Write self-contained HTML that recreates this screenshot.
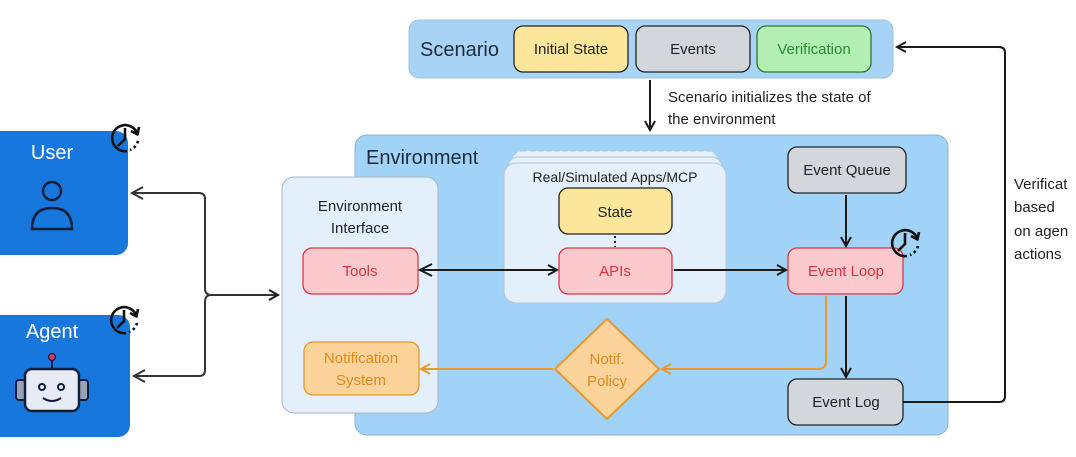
<!DOCTYPE html>
<html><head><meta charset="utf-8"><style>
html,body{margin:0;padding:0;background:#fff;width:1076px;height:457px;overflow:hidden}
text{font-family:"Liberation Sans","DejaVu Sans",sans-serif}
</style></head><body>
<svg width="1076" height="457" viewBox="0 0 1076 457" xmlns="http://www.w3.org/2000/svg">
<defs>
<marker id="ak" markerWidth="12" markerHeight="12" refX="10" refY="6" orient="auto" markerUnits="userSpaceOnUse"><path d="M1,1 L10,6 L1,11" fill="none" stroke="#1a1a1a" stroke-width="2"/></marker>
<marker id="ao" markerWidth="12" markerHeight="12" refX="10" refY="6" orient="auto" markerUnits="userSpaceOnUse"><path d="M1,1 L10,6 L1,11" fill="none" stroke="#e89a2c" stroke-width="2"/></marker>
<g id="clk"><path d="M2,13 A13,13 0 1 1 12.5,-4" fill="none" stroke="#111" stroke-width="2.6"/><path d="M6,-7 L12.5,-3.5 L14,-11" fill="none" stroke="#111" stroke-width="2.6" stroke-linejoin="round"/><path d="M13,3 A13,13 0 0 1 5,12" fill="none" stroke="#111" stroke-width="2.6" stroke-dasharray="2.5,3"/><path d="M0,-10 L0,1 L-7,8" fill="none" stroke="#111" stroke-width="2.6"/></g>
</defs>
<rect x="409" y="20" width="484" height="58" rx="10" fill="#a9d3f5" stroke="#9cc0de"/>
<text x="420" y="56" font-size="20" fill="#1d2b3a">Scenario</text>
<rect x="514" y="26" width="114" height="46" rx="9" fill="#fbe69a" stroke="#222" stroke-width="1.3"/>
<text x="571" y="54" font-size="15" text-anchor="middle" fill="#222">Initial State</text>
<rect x="636" y="26" width="114" height="46" rx="9" fill="#d3d7dc" stroke="#222" stroke-width="1.3"/>
<text x="693" y="54" font-size="15" text-anchor="middle" fill="#222">Events</text>
<rect x="757" y="26" width="114" height="46" rx="9" fill="#b3efb3" stroke="#2c7a2c" stroke-width="1.3"/>
<text x="814" y="54" font-size="15" text-anchor="middle" fill="#2e8b2e">Verification</text>
<line x1="650" y1="80" x2="650" y2="130" stroke="#1a1a1a" stroke-width="2" marker-end="url(#ak)"/>
<text x="668" y="102" font-size="15" fill="#222">Scenario initializes the state of</text>
<text x="668" y="124" font-size="15" fill="#222">the environment</text>
<rect x="355" y="135" width="593" height="300" rx="12" fill="#a1d2f8" stroke="#8fb3cf"/>
<text x="366" y="164" font-size="20" fill="#1d2b3a">Environment</text>
<rect x="282" y="177" width="156" height="236" rx="12" fill="#e3f0fb" stroke="#a9b8c4"/>
<text x="360" y="211" font-size="15" text-anchor="middle" fill="#222">Environment</text>
<text x="360" y="233" font-size="15" text-anchor="middle" fill="#222">Interface</text>
<rect x="303" y="248" width="115" height="46" rx="9" fill="#fcc9cd" stroke="#d6394a" stroke-width="1.3"/>
<text x="360" y="276" font-size="15" text-anchor="middle" fill="#d9333f">Tools</text>
<rect x="304" y="342" width="115" height="53" rx="9" fill="#fdd39c" stroke="#e89a2c" stroke-width="1.3"/>
<text x="361" y="363" font-size="15" text-anchor="middle" fill="#e08a1a">Notification</text>
<text x="361" y="385" font-size="15" text-anchor="middle" fill="#e08a1a">System</text>
<rect x="512" y="151" width="206" height="40" rx="10" fill="#e3f0fb" stroke="#b8c6d2" stroke-dasharray="5,3"/>
<rect x="508" y="157" width="214" height="40" rx="10" fill="#e3f0fb" stroke="#b8c6d2"/>
<rect x="504" y="163" width="222" height="140" rx="12" fill="#e3f0fb" stroke="#b8c6d2"/>
<text x="615" y="182" font-size="14" text-anchor="middle" fill="#222">Real/Simulated Apps/MCP</text>
<rect x="559" y="188" width="113" height="46" rx="9" fill="#fbe69a" stroke="#222" stroke-width="1.3"/>
<text x="615" y="217" font-size="15" text-anchor="middle" fill="#222">State</text>
<line x1="615" y1="236" x2="615" y2="247" stroke="#222" stroke-width="2" stroke-dasharray="2,3"/>
<rect x="559" y="248" width="113" height="46" rx="9" fill="#fcc9cd" stroke="#d6394a" stroke-width="1.3"/>
<text x="615" y="276" font-size="15" text-anchor="middle" fill="#d9333f">APIs</text>
<rect x="788" y="147" width="118" height="46" rx="9" fill="#d3d7dc" stroke="#222" stroke-width="1.3"/>
<text x="847" y="175" font-size="15" text-anchor="middle" fill="#222">Event Queue</text>
<rect x="788" y="248" width="115" height="46" rx="9" fill="#fcc9cd" stroke="#d6394a" stroke-width="1.3"/>
<text x="846" y="276" font-size="15" text-anchor="middle" fill="#d9333f">Event Loop</text>
<rect x="788" y="379" width="115" height="46" rx="9" fill="#d3d7dc" stroke="#222" stroke-width="1.3"/>
<text x="846" y="407" font-size="15" text-anchor="middle" fill="#222">Event Log</text>
<use href="#clk" x="905" y="243"/>
<polygon points="607,319 659,369 607,419 555,369" fill="#fdd39c" stroke="#e89a2c" stroke-width="2" stroke-linejoin="round"/>
<text x="607" y="364" font-size="15" text-anchor="middle" fill="#e08a1a">Notif.</text>
<text x="607" y="386" font-size="15" text-anchor="middle" fill="#e08a1a">Policy</text>
<line x1="420" y1="270" x2="557" y2="270" stroke="#1a1a1a" stroke-width="2" marker-end="url(#ak)"/>
<path d="M432,264 L420,270 L432,276" fill="none" stroke="#1a1a1a" stroke-width="2"/>
<line x1="674" y1="270" x2="786" y2="270" stroke="#1a1a1a" stroke-width="2" marker-end="url(#ak)"/>
<line x1="846" y1="195" x2="846" y2="246" stroke="#1a1a1a" stroke-width="2" marker-end="url(#ak)"/>
<line x1="846" y1="296" x2="846" y2="377" stroke="#1a1a1a" stroke-width="2" marker-end="url(#ak)"/>
<path d="M826,296 L826,361 Q826,369 818,369 L662,369" fill="none" stroke="#e89a2c" stroke-width="2" marker-end="url(#ao)"/>
<line x1="553" y1="369" x2="421" y2="369" stroke="#e89a2c" stroke-width="2" marker-end="url(#ao)"/>
<path d="M903,402 L999,402 Q1005,402 1005,396 L1005,53 Q1005,47 999,47 L897,47" fill="none" stroke="#1a1a1a" stroke-width="2" marker-end="url(#ak)"/>
<text x="1014" y="189" font-size="15" fill="#222">Verificat</text>
<text x="1014" y="212" font-size="15" fill="#222">based</text>
<text x="1014" y="236" font-size="15" fill="#222">on agen</text>
<text x="1014" y="259" font-size="15" fill="#222">actions</text>
<rect x="-12" y="131" width="140" height="124" rx="12" fill="#1877dc"/>
<text x="52" y="159" font-size="20" text-anchor="middle" fill="#fff">User</text>
<circle cx="52" cy="191" r="9" fill="none" stroke="#0d1f3a" stroke-width="2.5"/>
<path d="M32,229 Q32,208 52,208 Q72,208 72,229 Z" fill="none" stroke="#0d1f3a" stroke-width="2.5"/>
<use href="#clk" x="125" y="138"/>
<rect x="-12" y="315" width="142" height="122" rx="12" fill="#1877dc"/>
<text x="52" y="338" font-size="20" text-anchor="middle" fill="#fff">Agent</text>
<line x1="52" y1="358" x2="52" y2="369" stroke="#0d1f3a" stroke-width="2"/>
<circle cx="52" cy="357" r="3.5" fill="#e0315a" stroke="#0d1f3a" stroke-width="1.2"/>
<rect x="16" y="380" width="10" height="20" rx="3" fill="#9aa3b5" stroke="#0d1f3a" stroke-width="2"/>
<rect x="78" y="380" width="10" height="20" rx="3" fill="#9aa3b5" stroke="#0d1f3a" stroke-width="2"/>
<rect x="25" y="369" width="54" height="42" rx="7" fill="#e7ebf5" stroke="#0d1f3a" stroke-width="2.5"/>
<circle cx="42" cy="387" r="3" fill="none" stroke="#0d1f3a" stroke-width="2"/>
<circle cx="61" cy="387" r="3" fill="none" stroke="#0d1f3a" stroke-width="2"/>
<path d="M43,398 Q52,404 61,398" fill="none" stroke="#0d1f3a" stroke-width="2"/>
<use href="#clk" x="124" y="320"/>
<path d="M132,193 L199,193 Q205,193 205,199 L205,288 Q205,295 211,295 Q205,295 205,302 L205,370 Q205,376 199,376 L134,376" fill="none" stroke="#333" stroke-width="2"/>
<path d="M143,187 L132,193 L143,199" fill="none" stroke="#333" stroke-width="2"/>
<path d="M145,370 L134,376 L145,382" fill="none" stroke="#333" stroke-width="2"/>
<line x1="211" y1="295" x2="278" y2="295" stroke="#333" stroke-width="2" marker-end="url(#ak)"/>
</svg>
</body></html>
